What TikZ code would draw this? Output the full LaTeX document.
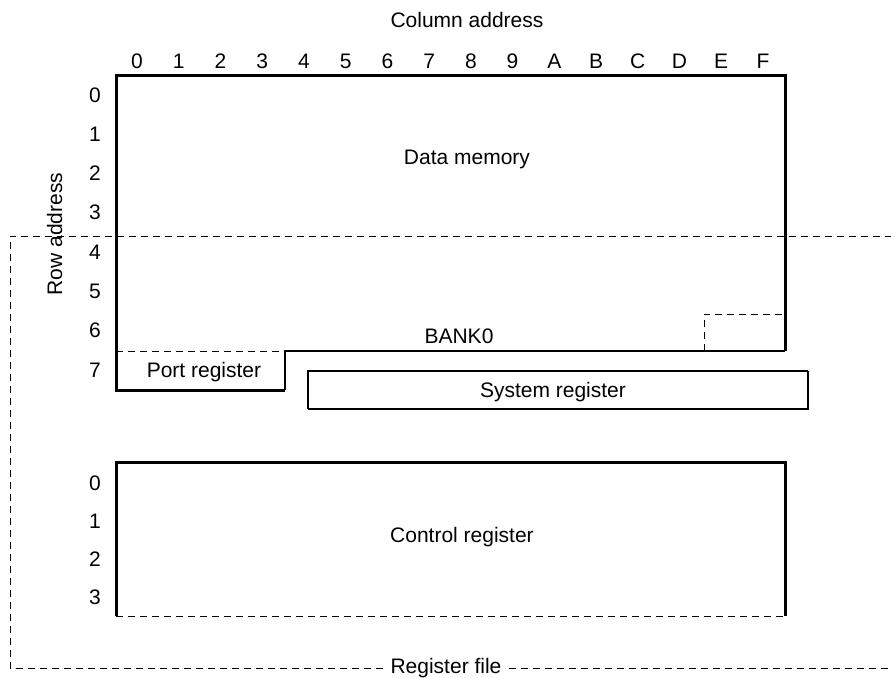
\documentclass[tikz,border=0pt]{standalone}
\usepackage{fontspec}
\setmainfont{Liberation Sans}
\begin{document}
\begin{tikzpicture}[x=1pt,y=-1pt,
  lbl/.style={font=\fontsize{21}{25}\selectfont, anchor=base, inner sep=0pt},
  thickln/.style={line width=3pt, line join=miter},
  thinln/.style={line width=1.3pt},
  dashln/.style={line width=1pt, dash pattern=on 7pt off 5pt},
]
\useasboundingbox (0,0) rectangle (891,677);

% labels
\node[lbl] (coladdr) at (467,28) {Column address};
\foreach \c [count=\i from 0] in {0,1,2,3,4,5,6,7,8,9,A,B,C,D,E,F}
  \node[lbl] (col\i) at ({137+41.73*\i},68) {\c};
\foreach \r in {0,...,7}
  \node[lbl] (row\r) at ({95},{102+39.3*\r}) {\r};
\foreach \r in {0,...,3}
  \node[lbl] (crow\r) at ({95},{490+38*\r}) {\r};
\node[lbl, rotate=90] (rowaddr) at (62,234) {Row address};

\node[lbl] (dm) at (467,164) {Data memory};
\node[lbl] (bank) at (459,343) {BANK0};
\node[lbl] (port) at (204,377) {Port register};
\node[lbl] (sys) at (553,397) {System register};
\node[lbl] (ctrl) at (462,542) {Control register};
\node[lbl, inner xsep=7pt] (rf) at (446,673) {Register file};

% Data memory outline
\coordinate (dmTL) at (116,75);
\coordinate (dmTR) at (785,75);
\coordinate (dmBR) at (785,351);
\coordinate (prBL) at (116,390);
\coordinate (prBR) at (285,390);
\coordinate (prTR) at (285,351);
\coordinate (prTL) at (116,351);
\draw[thickln] (dmBR) -- (dmTR) -- (dmTL) -- (prBL) -- (prBR);
\draw[thinln] (prBR) -- (prTR) -- (dmBR);
\draw[dashln] (prTL) -- (prTR);

% small dashed box
\coordinate (sbA) at (704,351);
\coordinate (sbB) at (704,314);
\coordinate (sbC) at (785,314);
\draw[dashln] (sbA) -- (sbB) -- (sbC);

% System register box
\coordinate (srTL) at (308,371);
\coordinate (srTR) at (808,371);
\coordinate (srBR) at (808,409);
\coordinate (srBL) at (308,409);
\draw[thinln] (srBL) -- (srTL) -- (srTR);
\draw[line width=2.6pt] (srTR) -- (srBR) -- (srBL);

% Control register box
\coordinate (crTL) at (116,462);
\coordinate (crTR) at (785,462);
\coordinate (crBR) at (785,616);
\coordinate (crBL) at (116,616);
\draw[thickln] (crBL) -- (crTL) -- (crTR) -- (crBR);
\draw[dashln] (crBL) -- (crBR);

% Register file frame
\draw[dashln] (rf.west |- 0,668) -- (10,668) -- (10,236) -- (891,236);
\draw[dashln] (rf.east |- 0,668) -- (891,668);
\end{tikzpicture}
\end{document}
